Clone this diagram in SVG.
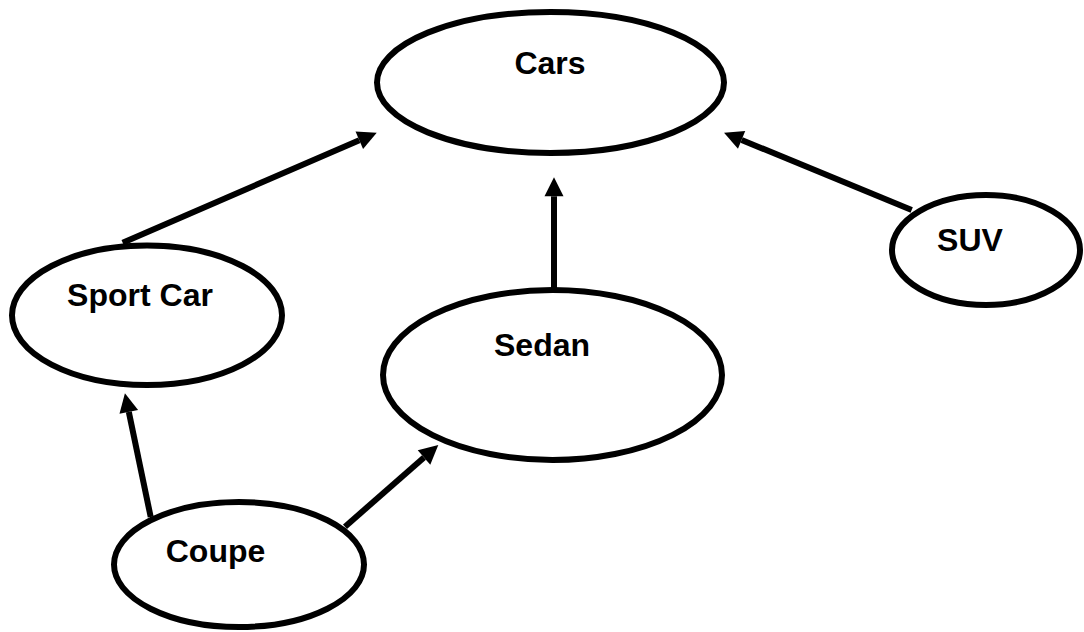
<svg xmlns="http://www.w3.org/2000/svg" width="1084" height="632" viewBox="0 0 1084 632">
  <style>
    .node ellipse { fill: #ffffff; stroke: #000000; stroke-width: 6; }
    .node text { font-family: "Liberation Sans", Arial, sans-serif; font-size: 32px; font-weight: bold; fill: #000000; text-anchor: middle; }
    .edge { stroke: #000000; stroke-width: 6; fill: none; marker-end: url(#arrow); }
  </style>
  <defs>
    <marker id="arrow" markerUnits="userSpaceOnUse" markerWidth="19" markerHeight="19" refX="0" refY="9.5" orient="auto" overflow="visible">
      <path d="M0,0 L19,9.5 L0,19 Z" fill="#000000"/>
    </marker>
  </defs>
  <rect width="1084" height="632" fill="#ffffff"/>

  <g id="connectors">
    <line class="edge" x1="122.7" y1="242.7" x2="359.3" y2="140.2"/>
    <line class="edge" x1="911.7" y1="210" x2="741.6" y2="139.9"/>
    <line class="edge" x1="554" y1="288" x2="554" y2="196.3"/>
    <line class="edge" x1="150.7" y1="517" x2="128.8" y2="411.9"/>
    <line class="edge" x1="345" y1="526.7" x2="424" y2="457.5"/>
  </g>

  <g id="cars" class="node">
    <ellipse cx="550.5" cy="82.5" rx="173.5" ry="70.5"/>
    <text x="550" y="74">Cars</text>
  </g>
  <g id="sport-car" class="node">
    <ellipse cx="147" cy="315.3" rx="135" ry="69.7"/>
    <text x="140" y="306">Sport Car</text>
  </g>
  <g id="sedan" class="node">
    <ellipse cx="552.5" cy="375" rx="169.5" ry="85"/>
    <text x="542" y="356">Sedan</text>
  </g>
  <g id="suv" class="node">
    <ellipse cx="986" cy="250" rx="94" ry="55"/>
    <text x="970" y="251">SUV</text>
  </g>
  <g id="coupe" class="node">
    <ellipse cx="239" cy="564.5" rx="125" ry="62.5"/>
    <text x="215.5" y="562">Coupe</text>
  </g>
</svg>
